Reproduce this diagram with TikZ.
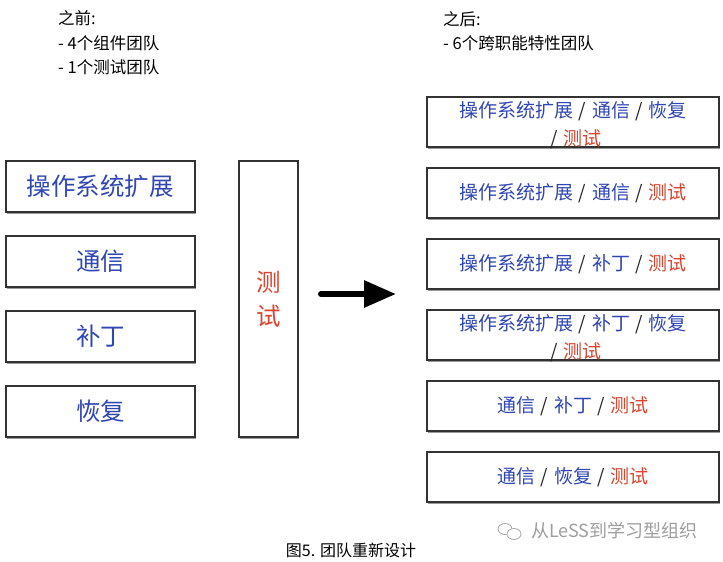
\documentclass[tikz,border=0pt]{standalone}
\usepackage{fontspec}
\setmainfont{Noto Sans CJK SC}
\usetikzlibrary{shadows,arrows.meta}
\definecolor{tblue}{HTML}{3046B4}
\definecolor{tred}{HTML}{D9452E}
\definecolor{tedge}{HTML}{333333}
\newcommand{\slsep}{\hspace{0.3em}\textcolor{black!85}{/}\hspace{0.3em}}
\newcommand{\twoline}[2]{\raisebox{-3pt}[\height][\depth]{\shortstack{#1\\[6pt]#2}}}
\begin{document}
\begin{tikzpicture}[x=1pt,y=-1pt,
  teambox/.style={draw=tedge,line width=1.3pt,fill=white,
    drop shadow={shadow xshift=1.2pt,shadow yshift=-1.8pt,fill=black,opacity=0.4},
    inner sep=0pt,align=center},
  leftbox/.style={teambox,minimum width=189pt,minimum height=51pt,
    font=\fontsize{24.5}{30}\selectfont,text=tblue},
  rightbox/.style={teambox,minimum width=292pt,minimum height=50pt,
    font=\fontsize{19}{27.5}\selectfont,text=tblue},
  note/.style={anchor=west,inner sep=0pt,font=\fontsize{16.5}{20}\selectfont,text=black}]
\useasboundingbox[fill=white] (0,0) rectangle (723,562);
% header texts
\node[note] (b1) at (58,18) {之前:};
\node[note] (b2) at (58,43) {- 4个组件团队};
\node[note] (b3) at (58,67) {- 1个测试团队};
\node[note] (c1) at (443,19) {之后:};
\node[note] (c2) at (443,43) {- 6个跨职能特性团队};
% left component teams
\node[leftbox] (os) at (100.5,186.5) {操作系统扩展};
\node[leftbox] (tx) at (100.5,261.5) {通信};
\node[leftbox] (bd) at (100.5,336.5) {补丁};
\node[leftbox] (hf) at (100.5,411.5) {恢复};
\node[teambox,minimum width=59pt,minimum height=276pt,
  font=\fontsize{24.5}{34}\selectfont,text=tred] (cs) at (268.5,299) {测\\试};
% arrow
\coordinate (a1) at (321,294);
\coordinate (a2) at (396,294);
\draw[line width=6pt,line cap=round,-{Triangle[length=32pt,width=26pt]}] (a1) -- (a2);
% right feature teams
\node[rightbox] (r1) at (573,122) {\twoline{操作系统扩展\slsep 通信\slsep 恢复}{\slsep\textcolor{tred}{测试}}};
\node[rightbox] (r2) at (573,193) {操作系统扩展\slsep 通信\slsep\textcolor{tred}{测试}};
\node[rightbox] (r3) at (573,264) {操作系统扩展\slsep 补丁\slsep\textcolor{tred}{测试}};
\node[rightbox] (r4) at (573,335) {\twoline{操作系统扩展\slsep 补丁\slsep 恢复}{\slsep\textcolor{tred}{测试}}};
\node[rightbox] (r5) at (573,406) {通信\slsep 补丁\slsep\textcolor{tred}{测试}};
\node[rightbox] (r6) at (573,477) {通信\slsep 恢复\slsep\textcolor{tred}{测试}};
% watermark
\begin{scope}[draw=black!35,line width=0.8pt]
  \draw (505,529) ellipse [x radius=7pt,y radius=5.5pt];
  \draw[fill=white] (514,534) ellipse [x radius=7pt,y radius=5.5pt];
\end{scope}
\node[anchor=west,inner sep=0pt,font=\fontsize{18}{20}\selectfont,text=black!38] (wm) at (531,531) {从LeSS到学习型组织};
% caption
\node[inner sep=0pt,font=\fontsize{16}{18}\selectfont,text=black] (cap) at (351,550) {图5. 团队重新设计};
\end{tikzpicture}
\end{document}
